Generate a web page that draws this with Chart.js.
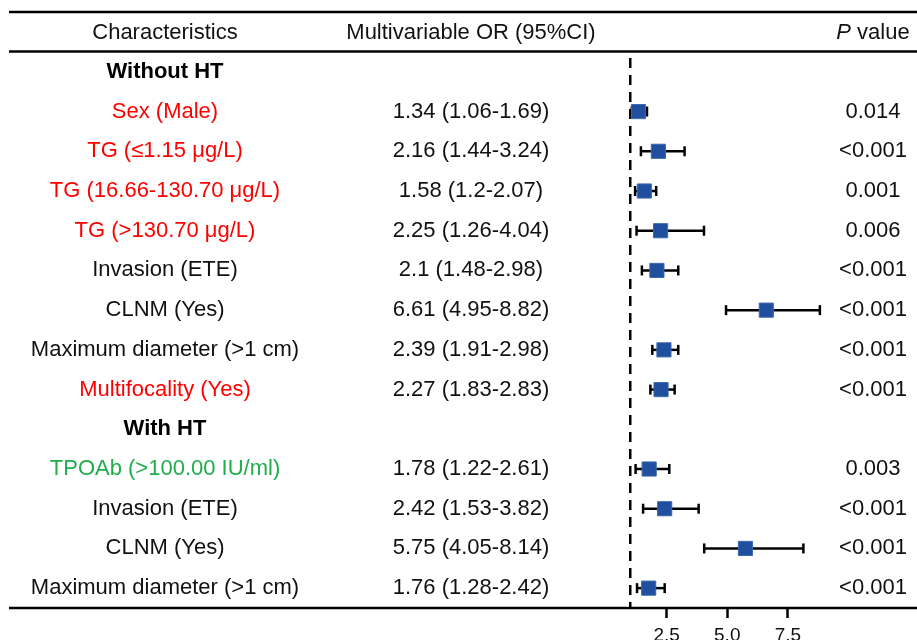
<!DOCTYPE html>
<html>
<head>
<meta charset="utf-8">
<script src="https://cdn.jsdelivr.net/npm/chart.js@4"></script>
<style>
  html, body { margin: 0; padding: 0; background: #fff; overflow: hidden; }
  #wrap { position: relative; width: 917px; height: 640px; }
</style>
</head>
<body>
<div id="wrap"><canvas id="forest"></canvas></div>
<script>
// ── Data ──────────────────────────────────────────────
const labels = [
  'Without HT', 'Sex (Male)', 'TG (≤1.15 μg/L)', 'TG (16.66-130.70 μg/L)', 'TG (>130.70 μg/L)',
  'Invasion (ETE)', 'CLNM (Yes)', 'Maximum diameter (>1 cm)', 'Multifocality (Yes)',
  'With HT', 'TPOAb (>100.00 IU/ml)', 'Invasion (ETE)', 'CLNM (Yes)', 'Maximum diameter (>1 cm)',
];
const labelColors = [
  'bold', 'red', 'red', 'red', 'red', 'black', 'black', 'black', 'red',
  'bold', 'green', 'black', 'black', 'black',
];
const orValues = [null, 1.34, 2.16, 1.58, 2.25, 2.1, 6.61, 2.39, 2.27, null, 1.78, 2.42, 5.75, 1.76];
const ciLow    = [null, 1.06, 1.44, 1.2, 1.26, 1.48, 4.95, 1.91, 1.83, null, 1.22, 1.53, 4.05, 1.28];
const ciHigh   = [null, 1.69, 3.24, 2.07, 4.04, 2.98, 8.82, 2.98, 2.83, null, 2.61, 3.82, 8.14, 2.42];
const pValues  = ['', '0.014', '<0.001', '0.001', '0.006', '<0.001', '<0.001', '<0.001', '<0.001',
                  '', '0.003', '<0.001', '<0.001', '<0.001'];
const xTicks = [2.5, 5.0, 7.5];
const refValue = 1;

// ── Styles ────────────────────────────────────────────
const FONT = '"Liberation Sans", Arial, sans-serif';
const COLORS = { red: '#ff0000', green: '#1fae4b', black: '#111111', bold: '#000000' };
const MARKER = '#1f4f9e';

const rows = labels.map((_, i) => i).filter(i => orValues[i] != null);

// ── Table plugin: text columns + horizontal rules ────
const tablePlugin = {
  id: 'forestTable',
  afterDraw(chart) {
    const { ctx, scales: { y }, chartArea } = chart;
    ctx.save();
    ctx.textBaseline = 'middle';
    ctx.textAlign = 'center';

    // rules
    ctx.strokeStyle = '#000';
    ctx.lineWidth = 2.5;
    [12, 51.5, chartArea.bottom].forEach(yy => {
      ctx.beginPath();
      ctx.moveTo(9, yy);
      ctx.lineTo(917, yy);
      ctx.stroke();
    });

    // header
    ctx.fillStyle = '#111';
    ctx.font = `22px ${FONT}`;
    ctx.fillText('Characteristics', 165, 33);
    ctx.fillText('Multivariable OR (95%CI)', 471, 33);
    ctx.font = `italic 22px ${FONT}`;
    const pw = ctx.measureText('P').width;
    ctx.font = `22px ${FONT}`;
    const vw = ctx.measureText(' value').width;
    const startX = 873 - (pw + vw) / 2;
    ctx.textAlign = 'left';
    ctx.font = `italic 22px ${FONT}`;
    ctx.fillText('P', startX, 33);
    ctx.font = `22px ${FONT}`;
    ctx.fillText(' value', startX + pw, 33);
    ctx.textAlign = 'center';

    // body
    labels.forEach((lab, i) => {
      const yy = y.getPixelForValue(i);
      const kind = labelColors[i];
      ctx.font = (kind === 'bold' ? 'bold ' : '') + `22px ${FONT}`;
      ctx.fillStyle = COLORS[kind];
      ctx.fillText(lab, 165, yy);
      ctx.font = `22px ${FONT}`;
      ctx.fillStyle = '#111';
      if (orValues[i] != null) {
        ctx.fillText(`${orValues[i]} (${ciLow[i]}-${ciHigh[i]})`, 471, yy);
      }
      if (pValues[i]) ctx.fillText(pValues[i], 873, yy);
    });
    ctx.restore();
  },
};

// ── Datasets ──────────────────────────────────────────
const squares = {
  label: 'OR',
  data: rows.map(i => ({ x: orValues[i], y: i })),
  pointStyle: 'rect',
  pointRadius: 10,
  backgroundColor: MARKER,
  borderColor: '#3c68b0',
  borderWidth: 1,
};

const caps = {
  label: 'caps',
  data: rows.flatMap(i => [{ x: ciLow[i], y: i }, { x: ciHigh[i], y: i }]),
  pointStyle: 'line',
  rotation: 90,
  pointRadius: 5,
  borderColor: '#000',
  borderWidth: 2.5,
};

const whiskers = rows.map(i => ({
  label: 'ci' + i,
  data: [{ x: ciLow[i], y: i }, { x: ciHigh[i], y: i }],
  showLine: true,
  pointRadius: 0,
  borderColor: '#000',
  borderWidth: 2.5,
}));

const refLine = {
  label: 'ref',
  data: [{ x: refValue, y: -0.5 }, { x: refValue, y: labels.length - 0.5 }],
  showLine: true,
  pointRadius: 0,
  borderColor: '#000',
  borderWidth: 2.5,
  borderDash: [10, 7],
  borderDashOffset: 11,
};

new Chart(document.getElementById('forest'), {
  type: 'scatter',
  data: { datasets: [squares, caps, ...whiskers, refLine] },
  options: {
    responsive: true,
    maintainAspectRatio: false,
    animation: false,
    layout: { padding: { left: 606, right: 20, top: 52, bottom: 0 } },
    plugins: { legend: { display: false }, tooltip: { enabled: false } },
    scales: {
      x: {
        type: 'linear',
        min: 0,
        max: 12,
        position: 'bottom',
        border: { display: false },
        grid: { drawOnChartArea: false, drawTicks: true, tickLength: 10, tickWidth: 2.5, tickColor: '#000' },
        ticks: {
          color: '#111',
          font: { family: FONT, size: 19 },
          padding: 6,
          callback: v => Number(v).toFixed(1),
        },
        afterBuildTicks: scale => { scale.ticks = xTicks.map(v => ({ value: v })); },
        afterFit: scale => { scale.height = 32; },
      },
      y: {
        type: 'linear',
        reverse: true,
        min: -0.5,
        max: labels.length - 0.5,
        display: false,
      },
    },
  },
  plugins: [tablePlugin],
});
</script>
</body>
</html>
